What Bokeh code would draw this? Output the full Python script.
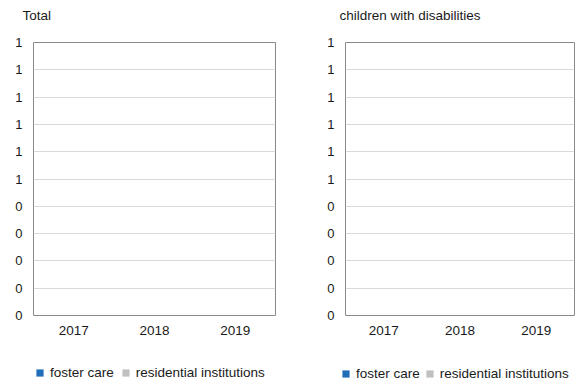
from bokeh.plotting import figure
from bokeh.layouts import row, column
from bokeh.models import (Range1d, FactorRange, FixedTicker, Legend, LegendItem,
                          ColumnDataSource, CategoricalAxis)
from bokeh.transform import dodge
from bokeh.embed import file_html
from bokeh.resources import INLINE

# ---- data ----
years = ["2017", "2018", "2019"]
series_names = ["foster care", "residential institutions"]
total_foster_care = [0, 0, 0]
total_residential = [0, 0, 0]
disab_foster_care = [0, 0, 0]
disab_residential = [0, 0, 0]
panel_titles = ["Total", "children with disabilities"]
y_ticks = [0.0, 0.1, 0.2, 0.3, 0.4, 0.5, 0.6, 0.7, 0.8, 0.9, 1.0]
y_tick_labels = ["0", "0", "0", "0", "0", "1", "1", "1", "1", "1", "1"]
colors = ["#1f6fb8", "#c0c0c0"]

FONT = "Liberation Sans"
TEXT = "#1a1a1a"


def add_bars(p, src):
    r1 = p.vbar(x=dodge("year", -0.15, range=p.x_range), top="foster",
                width=0.28, source=src, color=colors[0], line_color=None)
    r2 = p.vbar(x=dodge("year", 0.15, range=p.x_range), top="resid",
                width=0.28, source=src, color=colors[1], line_color=None)
    return r1, r2


def make_panel(title, foster, resid, width, b_left, b_right, b_top, b_bottom,
               title_offset):
    src = ColumnDataSource(dict(year=years, foster=foster, resid=resid))
    p = figure(x_range=FactorRange(*years), y_range=Range1d(0, 1),
               width=width, height=345, output_backend="svg",
               toolbar_location=None, min_border_left=b_left,
               min_border_right=b_right, min_border_top=b_top,
               min_border_bottom=b_bottom, title=title)
    add_bars(p, src)

    # invisible spacer between title and plot frame (no labels, no lines)
    spacer = CategoricalAxis(major_tick_out=20, major_tick_in=0,
                             major_tick_line_alpha=0, minor_tick_out=0,
                             minor_tick_in=0, axis_line_alpha=0,
                             major_label_standoff=0,
                             major_label_text_font_size="0px",
                             major_label_text_color=None)
    p.add_layout(spacer, "above")

    p.title.text_font = FONT
    p.title.text_font_size = "13.5px"
    p.title.text_font_style = "normal"
    p.title.text_color = TEXT
    p.title.align = "left"
    p.title.offset = title_offset
    p.title.standoff = 0

    p.outline_line_color = "#8a8a8a"
    p.outline_line_width = 1
    p.background_fill_color = "white"
    p.border_fill_color = "white"

    p.xgrid.grid_line_color = None
    p.ygrid.grid_line_color = "#d9d9d9"
    p.ygrid.grid_line_width = 1

    p.yaxis.ticker = FixedTicker(ticks=y_ticks)
    p.yaxis.major_label_overrides = {t: l for t, l in zip(y_ticks, y_tick_labels)}
    for ax in (p.below[0], p.left[0]):
        ax.axis_line_color = None
        ax.major_tick_line_color = None
        ax.minor_tick_line_color = None
        ax.major_tick_out = 0
        ax.major_tick_in = 0
        ax.major_label_text_font = FONT
        ax.major_label_text_color = TEXT
    p.below[0].major_label_text_font_size = "13.5px"
    p.left[0].major_label_text_font_size = "13px"
    p.below[0].major_label_standoff = 10
    p.left[0].major_label_standoff = 11
    return p, src


def make_legend_fig(src, width, legend_loc, legend_spacing):
    lf = figure(x_range=FactorRange(*years), y_range=Range1d(0, 1),
                width=width, height=37, output_backend="svg",
                toolbar_location=None, x_axis_type=None, y_axis_type=None,
                min_border=0, min_border_left=0, min_border_right=0,
                min_border_top=0, min_border_bottom=0)
    lf.outline_line_color = None
    lf.grid.grid_line_color = None
    lf.background_fill_color = "white"
    lf.border_fill_color = "white"
    r1, r2 = add_bars(lf, src)
    legend = Legend(items=[LegendItem(label=series_names[0], renderers=[r1]),
                           LegendItem(label=series_names[1], renderers=[r2])],
                    location=legend_loc, orientation="horizontal",
                    glyph_width=9, glyph_height=9, label_standoff=6,
                    spacing=legend_spacing, padding=0, margin=0,
                    border_line_color=None, background_fill_alpha=0,
                    label_text_font=FONT, label_text_font_size="13.5px",
                    label_text_color=TEXT, label_height=15)
    lf.add_layout(legend, "center")
    return lf


p1, s1 = make_panel(panel_titles[0], total_foster_care, total_residential,
                    290, 33, 15, 42, 30, -11)
p2, s2 = make_panel(panel_titles[1], disab_foster_care, disab_residential,
                    294, 55, 10, 42, 28, -6)
l1 = make_legend_fig(s1, 290, (35, 2), 7)
l2 = make_legend_fig(s2, 294, (51, 1), 5)

layout = column(row(p1, p2), row(l1, l2))
open("out.html", "w").write(file_html(layout, INLINE))
